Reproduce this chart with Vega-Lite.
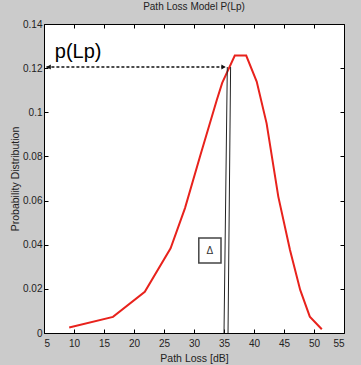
{
  "$schema": "https://vega.github.io/schema/vega-lite/v6.json",
  "width": 300,
  "height": 309,
  "autosize": {"type": "none"},
  "padding": {"left": 44, "top": 24, "right": 17, "bottom": 32},
  "background": "#cbcbcb",
  "config": {
    "view": {"stroke": "#000000", "strokeWidth": 1, "fill": "#ffffff"},
    "font": "Liberation Sans",
    "axis": {"grid": false, "domain": false, "tickColor": "#000000", "labelColor": "#222222", "labelFont": "Liberation Sans", "labelFontSize": 10, "titleFont": "Liberation Sans", "titleFontWeight": "normal", "titleFontSize": 10.5, "titleColor": "#222222"}
  },
  "title": {"text": "Path Loss Model  P(Lp)", "fontSize": 10, "fontWeight": "normal", "color": "#222222", "offset": 7, "font": "Liberation Sans"},
  "datasets": {
    "curve": [
      {"loss": 9.2, "p": 0.0025},
      {"loss": 16.5, "p": 0.0073},
      {"loss": 21.8, "p": 0.0187},
      {"loss": 26.1, "p": 0.0384},
      {"loss": 28.5, "p": 0.0566},
      {"loss": 31.0, "p": 0.080},
      {"loss": 33.8, "p": 0.1056},
      {"loss": 34.7, "p": 0.1133},
      {"loss": 36.8, "p": 0.1257},
      {"loss": 38.7, "p": 0.1257},
      {"loss": 40.45, "p": 0.1139},
      {"loss": 42.1, "p": 0.095},
      {"loss": 44.05, "p": 0.0618},
      {"loss": 46.0, "p": 0.0376},
      {"loss": 47.7, "p": 0.0195},
      {"loss": 49.3, "p": 0.0074},
      {"loss": 51.3, "p": 0.0017}
    ],
    "vlines": [
      {"x0": 35.0, "x1": 35.55, "y0": 0, "y1": 0.1205},
      {"x0": 35.67, "x1": 36.1, "y0": 0, "y1": 0.1205}
    ],
    "arrow": [
      {"x0": 5.4, "x1": 35.2, "y": 0.1205}
    ],
    "heads": [
      {"x": 5.9, "y": 0.1205, "ang": 270},
      {"x": 34.8, "y": 0.1205, "ang": 90}
    ],
    "box": [
      {"x0": 30.8, "x1": 34.5, "y0": 0.0317, "y1": 0.043, "label": "Δ", "xc": 32.65, "yc": 0.0373}
    ],
    "annot": [
      {"x": 6.8, "y": 0.1246, "label": "p(Lp)"}
    ]
  },
  "layer": [
    {
      "data": {"name": "curve"},
      "mark": {"type": "line", "color": "#e8221c", "strokeWidth": 2},
      "encoding": {
        "x": {"field": "loss", "type": "quantitative", "scale": {"domain": [5, 55], "nice": false, "zero": false},
          "axis": {"title": "Path Loss [dB]", "values": [5,10,15,20,25,30,35,40,45,50,55], "tickSize": -4, "labelPadding": 9, "titlePadding": 5}},
        "y": {"field": "p", "type": "quantitative", "scale": {"domain": [0, 0.14], "nice": false},
          "axis": {"title": "Probability Distribution", "values": [0,0.02,0.04,0.06,0.08,0.1,0.12,0.14], "format": "~g", "tickSize": -4, "labelPadding": 6, "titlePadding": 2}}
      }
    },
    {
      "data": {"name": "curve"},
      "mark": {"type": "point", "opacity": 0},
      "encoding": {
        "x": {"field": "loss", "type": "quantitative", "axis": {"orient": "top", "title": null, "labels": false, "values": [5,10,15,20,25,30,35,40,45,50,55], "tickSize": -4}},
        "y": {"field": "p", "type": "quantitative", "axis": {"orient": "right", "title": null, "labels": false, "values": [0,0.02,0.04,0.06,0.08,0.1,0.12,0.14], "tickSize": -4}}
      }
    },
    {
      "data": {"name": "vlines"},
      "mark": {"type": "rule", "color": "#222222", "strokeWidth": 1},
      "encoding": {
        "x": {"field": "x0", "type": "quantitative", "axis": null},
        "x2": {"field": "x1"},
        "y": {"field": "y0", "type": "quantitative", "axis": null},
        "y2": {"field": "y1"}
      }
    },
    {
      "data": {"name": "arrow"},
      "mark": {"type": "rule", "color": "#111111", "strokeWidth": 1.5, "strokeDash": [3, 2]},
      "encoding": {
        "x": {"field": "x0", "type": "quantitative", "axis": null},
        "x2": {"field": "x1"},
        "y": {"field": "y", "type": "quantitative", "axis": null}
      }
    },
    {
      "data": {"name": "heads"},
      "mark": {"type": "point", "shape": "triangle", "filled": true, "color": "#111111", "size": 25, "opacity": 1},
      "encoding": {
        "x": {"field": "x", "type": "quantitative", "axis": null},
        "y": {"field": "y", "type": "quantitative", "axis": null},
        "angle": {"field": "ang", "type": "quantitative", "scale": null}
      }
    },
    {
      "data": {"name": "box"},
      "mark": {"type": "rect", "fill": "#ffffff", "stroke": "#444444", "strokeWidth": 1.5},
      "encoding": {
        "x": {"field": "x0", "type": "quantitative", "axis": null},
        "x2": {"field": "x1"},
        "y": {"field": "y0", "type": "quantitative", "axis": null},
        "y2": {"field": "y1"}
      }
    },
    {
      "data": {"name": "box"},
      "mark": {"type": "text", "fontSize": 10, "color": "#333333", "align": "center", "baseline": "middle"},
      "encoding": {
        "x": {"field": "xc", "type": "quantitative", "axis": null},
        "y": {"field": "yc", "type": "quantitative", "axis": null},
        "text": {"field": "label"}
      }
    },
    {
      "data": {"name": "annot"},
      "mark": {"type": "text", "fontSize": 20, "color": "#000000", "align": "left", "baseline": "alphabetic", "font": "Liberation Sans"},
      "encoding": {
        "x": {"field": "x", "type": "quantitative", "axis": null},
        "y": {"field": "y", "type": "quantitative", "axis": null},
        "text": {"field": "label"}
      }
    }
  ],
  "resolve": {"axis": {"x": "independent", "y": "independent"}}
}
